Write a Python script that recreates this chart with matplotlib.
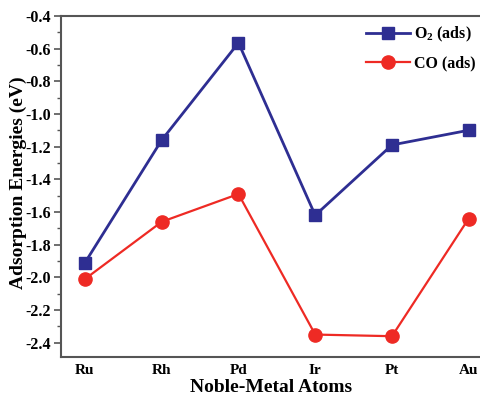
import numpy as np
import matplotlib.pyplot as plt
from matplotlib.ticker import MultipleLocator

plt.rcParams['font.family'] = ['Liberation Serif', 'DejaVu Serif']
plt.rcParams['font.weight'] = 'bold'
plt.rcParams['mathtext.fontset'] = 'custom'
plt.rcParams['mathtext.rm'] = 'Liberation Serif:bold'

# adsorption energies (eV)
metals = ['Ru', 'Rh', 'Pd', 'Ir', 'Pt', 'Au']
o2_ads = [-1.91, -1.16, -0.565, -1.62, -1.19, -1.10]
co_ads = [-2.01, -1.66, -1.49, -2.35, -2.36, -1.64]

x = np.arange(len(metals))

fig = plt.figure(figsize=(4.8, 3.96), dpi=100)
ax = fig.add_axes([0.127, 0.099, 0.876, 0.861])

ax.plot(x, o2_ads, color='#2e2e92', lw=2.0, marker='s', ms=8.5,
        label='O$_2$ (ads)')
ax.plot(x, co_ads, color='#ee2a24', lw=1.6, marker='o', ms=9.5,
        label='CO (ads)')

ax.set_xlim(-0.313, 5.166)
ax.set_ylim(-2.486, -0.4)
ax.set_xticks(x)
ax.set_xticklabels(metals)
ax.yaxis.set_major_locator(MultipleLocator(0.2))
ax.yaxis.set_minor_locator(MultipleLocator(0.1))
ax.yaxis.set_major_formatter(lambda v, p: f'{v:.1f}')

ax.tick_params(axis='x', length=0, pad=5, labelsize=11)
ax.tick_params(axis='y', which='major', direction='out', length=5,
               width=1.2, color='#555555', labelsize=11.5, pad=2)
ax.tick_params(axis='y', which='minor', direction='out', length=3,
               width=1.0, color='#555555')

for s in ax.spines.values():
    s.set_color('#555555')
    s.set_linewidth(1.5)

ax.set_xlabel('Noble-Metal Atoms', fontsize=14, fontweight='bold')
ax.xaxis.set_label_coords(0.5, -0.066)
ax.set_ylabel('Adsorption Energies (eV)', fontsize=14, fontweight='bold')
ax.yaxis.set_label_coords(-0.08, 0.51)

ax.legend(loc='upper right', frameon=False, fontsize=11.5, handlelength=2.8,
          borderaxespad=0.3, labelspacing=0.7, handletextpad=0.2,
          bbox_to_anchor=(1.012, 1.006))

fig.savefig('out.png', dpi=100)
